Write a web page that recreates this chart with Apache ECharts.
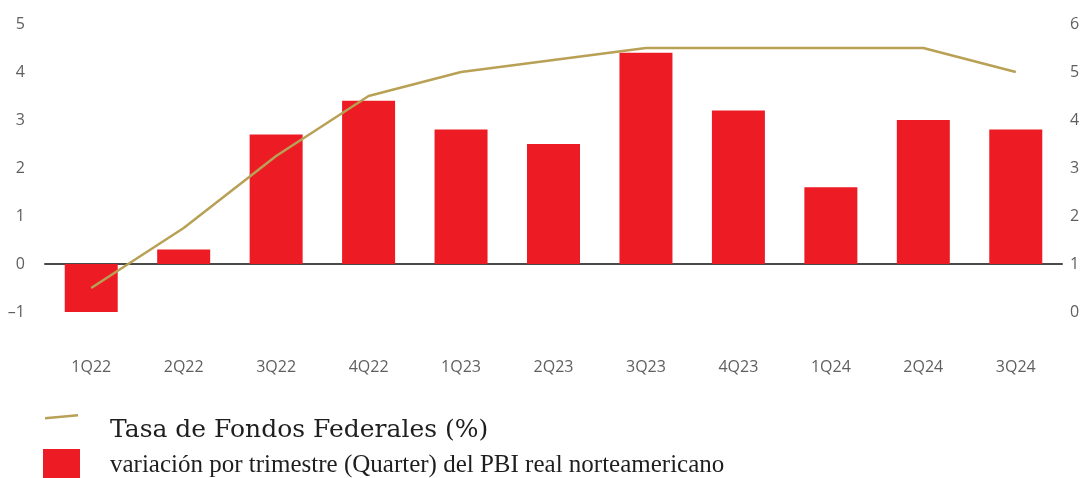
<!DOCTYPE html>
<html>
<head>
<meta charset="utf-8">
<script src="https://cdn.jsdelivr.net/npm/echarts@6/dist/echarts.min.js"></script>
<style>
  html, body { margin: 0; padding: 0; background: #fff; }
  #chart { width: 1084px; height: 478px; }
</style>
</head>
<body>
<div id="chart"></div>
<script>
// quarters on the x axis
const quarters = ['1Q22', '2Q22', '3Q22', '4Q22', '1Q23', '2Q23', '3Q23', '4Q23', '1Q24', '2Q24', '3Q24']
// real US GDP quarterly change (left axis)
const gdpChange = [-1.0, 0.3, 2.7, 3.4, 2.8, 2.5, 4.4, 3.2, 1.6, 3.0, 2.8]
// fed funds rate % (right axis)
const fedRate = [0.5, 1.75, 3.25, 4.5, 5.0, 5.25, 5.5, 5.5, 5.5, 5.5, 5.0]

const lineName = 'Tasa de Fondos Federales (%)'
const barName = 'variación por trimestre (Quarter) del PBI real norteamericano'

const myChart = echarts.init(document.getElementById('chart'))
const labelStyle = {
    color: '#5f5f5f',
    fontFamily: 'Open Sans',
    fontSize: 16
}
const option = {
    animation: false,
    grid: {
        left: 45,
        right: 22,
        top: 24,
        bottom: 166
    },
    legend: {
        orient: 'vertical',
        left: 43,
        top: 414,
        height: 70,
        padding: 0,
        itemWidth: 37,
        itemHeight: 32,
        itemGap: 3,
        selectedMode: false,
        textStyle: {
            fontFamily: 'Liberation Serif',
            fontSize: 25,
            color: '#1e1e1e',
            padding: [0, 0, 0, 25]
        },
        data: [
            {
                name: lineName,
                icon: 'path://M2,3 L35,0 L35,2.5 L2,5.5 Z M0,32 L0.01,32 L0,32.01 Z M37,32 L36.99,32 L37,31.99 Z',
                itemStyle: { color: '#b8a055' },
                textStyle: {
                    fontFamily: 'DejaVu Serif',
                    fontSize: 25,
                    color: '#1e1e1e',
                    padding: [0, 0, 6, 25]
                }
            },
            {
                name: barName,
                icon: 'rect',
                itemStyle: { color: '#ed1c24' }
            }
        ]
    },
    xAxis: {
        type: 'category',
        data: quarters,
        axisLine: {
            onZero: true,
            lineStyle: { color: '#4a4a4a', width: 2 }
        },
        axisTick: { show: false },
        axisLabel: Object.assign({ margin: 47, interval: 0 }, labelStyle)
    },
    yAxis: [
        {
            type: 'value',
            min: -1,
            max: 5,
            interval: 1,
            splitLine: { show: false },
            axisLine: { show: false },
            axisLabel: Object.assign({
                margin: 20,
                formatter: v => (v < 0 ? '\u2013' + Math.abs(v) : String(v))
            }, labelStyle)
        },
        {
            type: 'value',
            min: 0,
            max: 6,
            interval: 1,
            splitLine: { show: false },
            axisLine: { show: false },
            axisLabel: Object.assign({ margin: 8 }, labelStyle)
        }
    ],
    series: [
        {
            name: barName,
            type: 'bar',
            yAxisIndex: 0,
            barWidth: 53,
            itemStyle: { color: '#ed1c24' },
            data: gdpChange
        },
        {
            name: lineName,
            type: 'line',
            yAxisIndex: 1,
            symbol: 'none',
            lineStyle: { color: '#b8a055', width: 2.5 },
            itemStyle: { color: '#b8a055' },
            data: fedRate
        }
    ]
}
myChart.setOption(option)
</script>
</body>
</html>
